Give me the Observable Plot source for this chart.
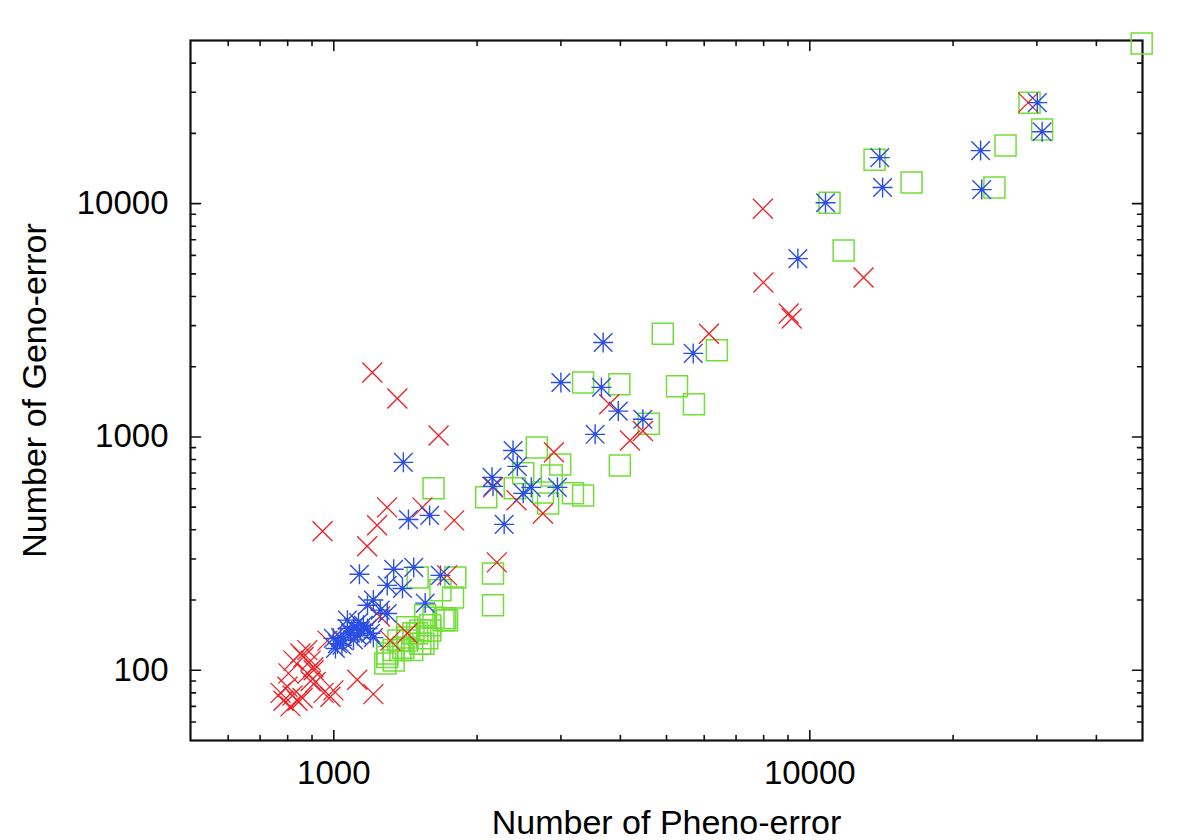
<!DOCTYPE html>
<html>
<head>
<meta charset="utf-8">
<script src="https://cdn.jsdelivr.net/npm/d3@7"></script>
<script src="https://cdn.jsdelivr.net/npm/@observablehq/plot@0.6"></script>
<style>
  html, body { margin: 0; padding: 0; background: #fff; }
  #chart { width: 1200px; height: 840px; }
</style>
</head>
<body>
<div id="chart"></div>
<script>
// ---- Data: [Number of Pheno-error, Number of Geno-error] ----
const seriesRed = [
  [773,80],[784,74],[799,85],[811,70],[819,78],[839,74],[860,76],[823,110],[864,114],[851,118],
  [880,122],[881,97],[907,100],[894,90],[916,89],[952,80],[984,77],[998,82],[894,110],[803,97],
  [906,103],[970,134],[1120,91],[1211,79],
  [947,394],[1175,340],[1233,418],[1294,499],[1535,499],[1790,439],[1205,1890],[1360,1460],[1660,1015],
  [2160,608],[2420,535],[2750,470],[2900,859],[2200,290],[1730,255],[1427,144],[1315,134],[1250,170],
  [3790,1380],[4460,1060],[4190,966],[6140,2770],[7970,9500],[7990,4590],[9030,3380],[9160,3220],
  [12970,4820],[28760,27080]
];
const seriesBlue = [
  [1018,130],[1033,138],[1068,151],[1100,153],[1138,148],[1177,151],[1084,144],[1121,141],[1048,134],
  [998,137],[1154,156],[1194,144],[1008,124],[1211,138],[1127,160],[1068,164],[1040,128],[1100,135],
  [1132,258],[1336,271],[1472,276],[1675,255],[1295,231],[1394,224],[1211,200],[1556,194],[1295,175],
  [1252,181],[1177,190],
  [1400,778],[1435,443],[1590,461],
  [2150,671],[2160,614],[2380,875],[2430,748],[2600,608],[2950,608],[2500,573],[2280,422],
  [3000,1710],[3650,1630],[3680,2540],[3960,1290],[4460,1190],[3540,1026],[5690,2280],
  [9440,5810],[10790,10090],[14030,15740],[14220,11720],[22850,16870],[22970,11480],[30060,27080],[30770,20330]
];
const seriesGreen = [
  [1295,118],[1336,122],[1367,134],[1427,138],[1470,144],[1520,148],[1400,125],[1461,122],[1520,130],
  [1572,137],[1595,156],[1556,172],[1730,164],[1283,107],[1295,114],[1380,122],[1427,134],[1497,144],
  [1543,130],[1595,148],[1620,168],[1715,167],[1427,153],[1336,110],
  [1780,205],[1800,250],[1500,250],[1675,220],[1700,164],
  [1620,602],[2090,551],[2160,260],[2160,190],
  [2670,902],[2990,762],[2500,698],[2870,684],[2400,602],[2750,578],[3180,573],[3340,561],[2820,519],
  [3340,1710],[3980,1680],[5260,1650],[5710,1380],[4590,1140],[3990,755],[4910,2770],[6380,2350],
  [11780,6290],[11000,10090],[13680,15420],[16360,12300],[25780,17720],[24430,11710],[28950,27080],
  [30770,20750],[49800,48500]
];

// ---- Axis ticks & labels ----
const xLabelTicks = [1000, 10000];
const xMinorTicks = [600,700,800,900,2000,3000,4000,5000,6000,7000,8000,9000,20000,30000,40000];
const yLabelTicks = [100, 1000, 10000];
const yMinorTicks = [60,70,80,90,200,300,400,500,600,700,800,900,2000,3000,4000,5000,6000,7000,8000,9000,20000,30000,40000];
const xTitle = "Number of Pheno-error";
const yTitle = "Number of Geno-error";

const colors = {red: "#f01e22", blue: "#2b4ee4", green: "#70de36"};

// ---- Custom symbols (gnuplot-like) ----
const symTimes = {draw(ctx) { const r = 10; ctx.moveTo(-r, -r); ctx.lineTo(r, r); ctx.moveTo(-r, r); ctx.lineTo(r, -r); }};
const symStar = {draw(ctx) {
  const r = 10, d = 9.3;
  ctx.moveTo(-r, 0); ctx.lineTo(r, 0); ctx.moveTo(0, -r); ctx.lineTo(0, r);
  ctx.moveTo(-d, -d); ctx.lineTo(d, d); ctx.moveTo(-d, d); ctx.lineTo(d, -d);
  ctx.moveTo(1.5, 0); ctx.arc(0, 0, 1.5, 0, 2 * Math.PI);
}};
const symBox = {draw(ctx) { const h = 10.5; ctx.rect(-h, -h, 2 * h, 2 * h); }};
const tickShape = {draw(ctx, l) { ctx.moveTo(0, 0); ctx.lineTo(0, -l); }};

const tickMarks = (vals, len) => [
  Plot.vectorX(vals, {x: d => d, frameAnchor: "bottom", anchor: "start", length: len, rotate: 0, shape: tickShape, stroke: "#111", strokeWidth: 1.6}),
  Plot.vectorX(vals, {x: d => d, frameAnchor: "top", anchor: "start", length: len, rotate: 180, shape: tickShape, stroke: "#111", strokeWidth: 1.6})
];
const tickMarksY = (vals, len) => [
  Plot.vectorY(vals, {y: d => d, frameAnchor: "left", anchor: "start", length: len, rotate: 90, shape: tickShape, stroke: "#111", strokeWidth: 1.6}),
  Plot.vectorY(vals, {y: d => d, frameAnchor: "right", anchor: "start", length: len, rotate: -90, shape: tickShape, stroke: "#111", strokeWidth: 1.6})
];

const chart = Plot.plot({
  width: 1200,
  height: 840,
  marginLeft: 190,
  marginRight: 58,
  marginTop: 40,
  marginBottom: 100,
  style: {fontFamily: "'Liberation Sans', Arial, Helvetica, sans-serif", fontSize: "33px", color: "#000", background: "#fff", overflow: "visible"},
  x: {type: "log", domain: [500, 50000]},
  y: {type: "log", domain: [50, 50000]},
  marks: [
    Plot.axisX({ticks: xLabelTicks, tickSize: 0, tickPadding: 20, tickFormat: d3.format("d"), label: null}),
    Plot.axisY({ticks: yLabelTicks, tickSize: 0, tickPadding: 22, tickFormat: d3.format("d"), label: null}),
    ...tickMarks(xLabelTicks, 10),
    ...tickMarks(xMinorTicks, 5),
    ...tickMarksY(yLabelTicks, 10),
    ...tickMarksY(yMinorTicks, 5),
    Plot.frame({stroke: "#111", strokeWidth: 2.2}),
    Plot.dot(seriesGreen, {x: d => d[0], y: d => d[1], symbol: symBox, stroke: colors.green, strokeWidth: 1.5}),
    Plot.dot(seriesRed, {x: d => d[0], y: d => d[1], symbol: symTimes, stroke: colors.red, strokeWidth: 1.3}),
    Plot.dot(seriesBlue, {x: d => d[0], y: d => d[1], symbol: symStar, stroke: colors.blue, strokeWidth: 1.4}),
    Plot.text([xTitle], {text: d => d, frameAnchor: "bottom", dy: 93, lineAnchor: "bottom", textAnchor: "middle", fontSize: 34}),
    Plot.text([yTitle], {text: d => d, frameAnchor: "left", dx: -169, rotate: -90, lineAnchor: "top", textAnchor: "middle", fontSize: 34})
  ]
});
document.getElementById("chart").appendChild(chart);
</script>
</body>
</html>
